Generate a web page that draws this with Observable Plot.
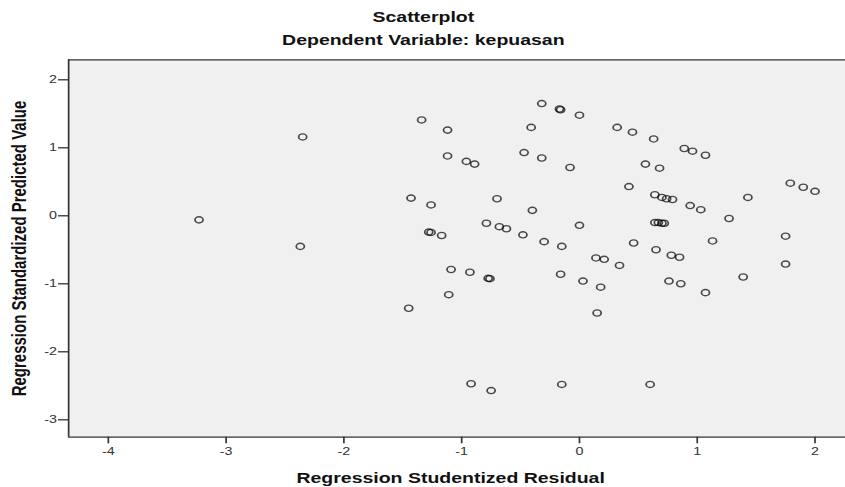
<!DOCTYPE html>
<html><head><meta charset="utf-8">
<script src="https://cdn.jsdelivr.net/npm/d3@7"></script>
<script src="https://cdn.jsdelivr.net/npm/@observablehq/plot@0.6"></script>
<style>
html,body{margin:0;padding:0;background:#fff;overflow:hidden;}
#wrap{width:650px;height:487px;transform:scaleX(1.3);transform-origin:0 0;}
</style></head><body><div id="wrap"></div>
<script>
// Regression Studentized Residual (x) and Regression Standardized Predicted Value (y)
const residual = [
  -3.23, -2.35, -2.37, -1.34, -1.12, -0.32, -0.17, -0.16, 0.00, -0.41,
  0.32, 0.45, 0.63, 0.89, 0.96, 1.07, -1.12, -0.96, -0.89, -0.47,
  -0.32, -0.08, 0.56, 0.68, 0.42, -1.43, -1.26, -0.70, -0.40, 0.64,
  0.70, 0.74, 0.79, 0.94, 1.03, 1.43, 1.79, 1.90, 2.00, 1.27,
  0.64, 0.67, 0.70, 0.72, 0.00, -0.79, -0.68, -0.62, -0.48, -0.30,
  -0.15, -1.28, -1.26, -1.17, 0.46, 0.65, 0.78, 0.85, 1.13, 1.75,
  0.14, 0.21, 0.34, 1.75, -1.09, -0.93, -0.775, -0.76, -0.16, 0.03,
  0.18, 0.76, 0.86, 1.07, 1.39, -1.11, -1.45, 0.15, -0.92, -0.75,
  -0.15, 0.60
];
const predicted = [
  -0.06, 1.16, -0.45, 1.41, 1.26, 1.65, 1.57, 1.56, 1.48, 1.30,
  1.30, 1.23, 1.13, 0.99, 0.95, 0.89, 0.88, 0.80, 0.76, 0.93,
  0.85, 0.71, 0.76, 0.70, 0.43, 0.26, 0.16, 0.25, 0.08, 0.31,
  0.27, 0.25, 0.24, 0.15, 0.09, 0.27, 0.48, 0.42, 0.36, -0.04,
  -0.10, -0.10, -0.11, -0.11, -0.14, -0.11, -0.16, -0.19, -0.28, -0.38,
  -0.45, -0.24, -0.245, -0.29, -0.40, -0.50, -0.58, -0.61, -0.37, -0.30,
  -0.62, -0.64, -0.73, -0.71, -0.79, -0.83, -0.92, -0.925, -0.86, -0.96,
  -1.05, -0.96, -1.00, -1.13, -0.90, -1.16, -1.36, -1.43, -2.47, -2.57,
  -2.48, -2.48
];
const xTicks = [-4, -3, -2, -1, 0, 1, 2];
const yTicks = [-3, -2, -1, 0, 1, 2];
const xDomain = [-4.337, 2.26];
const yDomain = [-3.256, 2.294];
const titleText = "Scatterplot";
const subtitleText = "Dependent Variable: kepuasan";
const xLabel = "Regression Studentized Residual";
const yLabel = "Regression Standardized Predicted Value";

const points = residual.map((x, i) => ({x, y: predicted[i]}));
const font = "'Liberation Sans', Arial, Helvetica, sans-serif";
const bold = {fontWeight: "bold", fontSize: 15, fill: "#111", text: d => d};

const chart = Plot.plot({
  width: 650, height: 487,
  marginLeft: 52.3, marginRight: 0, marginTop: 59.3, marginBottom: 50.3,
  style: {fontFamily: font, fontSize: "11px", background: "#fff", overflow: "visible"},
  x: {domain: xDomain, ticks: xTicks, label: null},
  y: {domain: yDomain, ticks: yTicks, label: null},
  marks: [
    Plot.frame({fill: "#f0f0f0", stroke: "none"}),
    Plot.axisX({ticks: xTicks, tickSize: 6.6, tickPadding: 3, tickFormat: d => String(d), label: null, color: "#333", strokeWidth: 1.3}),
    Plot.axisY({ticks: yTicks, tickSize: 7.7, tickPadding: 1.2, tickFormat: d => String(d), label: null, color: "#333", strokeWidth: 1.3}),
    Plot.ruleX(xDomain.slice(0, 1), {stroke: "#333", strokeWidth: 1.3}),
    Plot.ruleY(yDomain, {stroke: "#333", strokeWidth: 1.3}),
    Plot.dot(points, {x: "x", y: "y", r: 3.1, stroke: "#000", strokeOpacity: 0.7, strokeWidth: 1.35, fill: "none"}),
    Plot.text([titleText], {...bold, frameAnchor: "top", lineAnchor: "bottom", dy: -37.6, dx: -26}),
    Plot.text([subtitleText], {...bold, frameAnchor: "top", lineAnchor: "bottom", dy: -15.3, dx: -26}),
    Plot.text([xLabel], {...bold, frameAnchor: "bottom", lineAnchor: "bottom", dy: 45.3, dx: -5}),
    Plot.text([yLabel], {...bold, frameAnchor: "left", textAnchor: "middle", lineAnchor: "middle", rotate: -90, dx: -37.7})
  ]
});
document.getElementById("wrap").appendChild(chart);
</script>
</body></html>
